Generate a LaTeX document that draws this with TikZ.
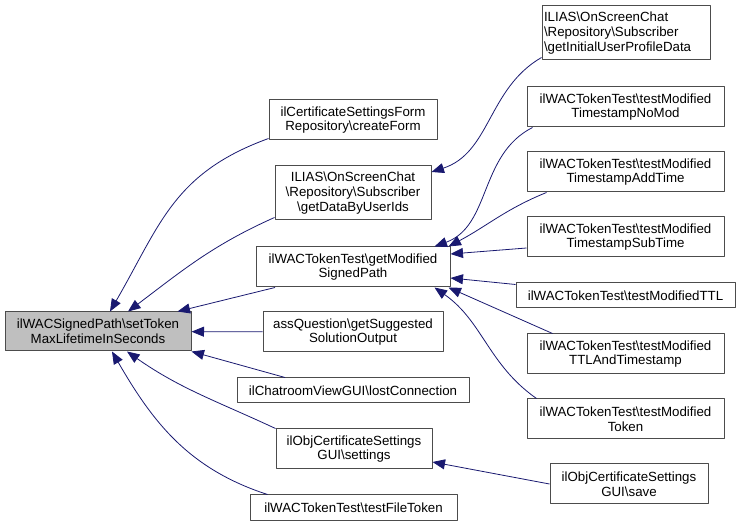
\documentclass[tikz,border=0pt]{standalone}
\usepackage{fontspec}
\setmainfont{Liberation Sans}
\usetikzlibrary{arrows.meta}
\definecolor{edgeblue}{HTML}{191970}
\definecolor{rootgray}{HTML}{BFBFBF}
\newcommand{\bk}{\textbackslash}
\begin{document}
\begin{tikzpicture}[line join=round,>={Triangle[length=12.5pt,width=10pt]},x=1pt,y=1pt]
	\tikzset{fn/.style={draw=black!70,line width=1pt,fill=white,inner sep=0pt,minimum height=40pt,align=center,font=\fontsize{13.3}{14.6}\selectfont},
		call/.style={->,draw=edgeblue,line width=0.8pt}}
	\useasboundingbox (0,0) rectangle (741,527);
	\node[fn,fill=rootgray,minimum width=186pt,minimum height=39pt] (root) at (98,195.5) {ilWACSignedPath\bk setToken\\MaxLifetimeInSeconds};
	\node[fn,minimum width=168pt] (cform) at (353,407) {ilCertificateSettingsForm\\Repository\bk createForm};
	\node[fn,minimum width=156pt,minimum height=54pt] (dataids) at (353,334) {ILIAS\bk OnScreenChat\\\bk Repository\bk Subscriber\\\bk getDataByUserIds};
	\node[fn,minimum width=194pt] (sigpath) at (353,260) {ilWACTokenTest\bk getModified\\SignedPath};
	\node[fn,minimum width=180pt] (assq) at (353,195) {assQuestion\bk getSuggested\\SolutionOutput};
	\node[fn,minimum width=232pt,minimum height=25pt] (lostc) at (353,136.5) {ilChatroomViewGUI\bk lostConnection};
	\node[fn,minimum width=156pt] (settings) at (354,78) {ilObjCertificateSettings\\GUI\bk settings};
	\node[fn,minimum width=207pt,minimum height=26pt] (filetoken) at (353.5,19) {ilWACTokenTest\bk testFileToken};
	\node[fn,inner xsep=2pt,text width=164pt,align=left,minimum height=54pt] (initial) at (626,494) {ILIAS\bk OnScreenChat\\\bk Repository\bk Subscriber\\\bk getInitialUserProfileData};
	\node[fn,minimum width=197pt] (nomod) at (625.5,420) {ilWACTokenTest\bk testModified\\TimestampNoMod};
	\node[fn,minimum width=197pt] (addtime) at (625.5,355) {ilWACTokenTest\bk testModified\\TimestampAddTime};
	\node[fn,minimum width=197pt] (subtime) at (625.5,290) {ilWACTokenTest\bk testModified\\TimestampSubTime};
	\node[fn,minimum width=219pt,minimum height=25pt] (ttl) at (625.5,231.5) {ilWACTokenTest\bk testModifiedTTL};
	\node[fn,minimum width=197pt] (ttlts) at (625.5,173) {ilWACTokenTest\bk testModified\\TTLAndTimestamp};
	\node[fn,minimum width=197pt] (tok) at (625.5,108) {ilWACTokenTest\bk testModified\\Token};
	\node[fn,minimum width=158pt] (save) at (629,43) {ilObjCertificateSettings\\GUI\bk save};
	\draw[call] ([yshift=2pt]cform.south west) to[out=200,in=60,looseness=1.1] ([xshift=12pt]root.north);
	\draw[call] ([yshift=3pt]dataids.south west) to[out=204,in=37] ([xshift=30pt]root.north);
	\draw[call] ([xshift=-78pt]sigpath.south) -- ([xshift=-14pt]root.north east);
	\draw[call] (assq) -- (root);
	\draw[call] ([xshift=-68pt]lostc.north) -- (root.south east);
	\draw[call] (settings.north west) to[out=155,in=-35] ([xshift=29pt]root.south);
	\draw[call] ([xshift=18pt]filetoken.north west) to[out=162,in=-60] ([xshift=14pt]root.south);
	\draw[call] ([yshift=3pt]initial.south west) to[out=210,in=18] ([yshift=21pt]dataids.east);
	\draw[call] ([xshift=6pt]nomod.south west) to[out=207,in=20] ([xshift=-16pt]sigpath.north east);
	\draw[call] ([xshift=20pt]addtime.south west) to[out=202,in=28] ([xshift=-2pt]sigpath.north east);
	\draw[call] ([yshift=-11pt]subtime.west) -- ([yshift=13pt]sigpath.east);
	\draw[call] ([yshift=-2pt]ttl.north west) -- ([yshift=-11pt]sigpath.east);
	\draw[call] ([xshift=26pt]ttlts.north west) -- ([xshift=-2pt]sigpath.south east);
	\draw[call] ([xshift=10pt]tok.north west) to[out=145,in=-35] ([xshift=-16pt]sigpath.south east);
	\draw[call] (save.west) -- ([yshift=-13pt]settings.east);
\end{tikzpicture}
\end{document}
